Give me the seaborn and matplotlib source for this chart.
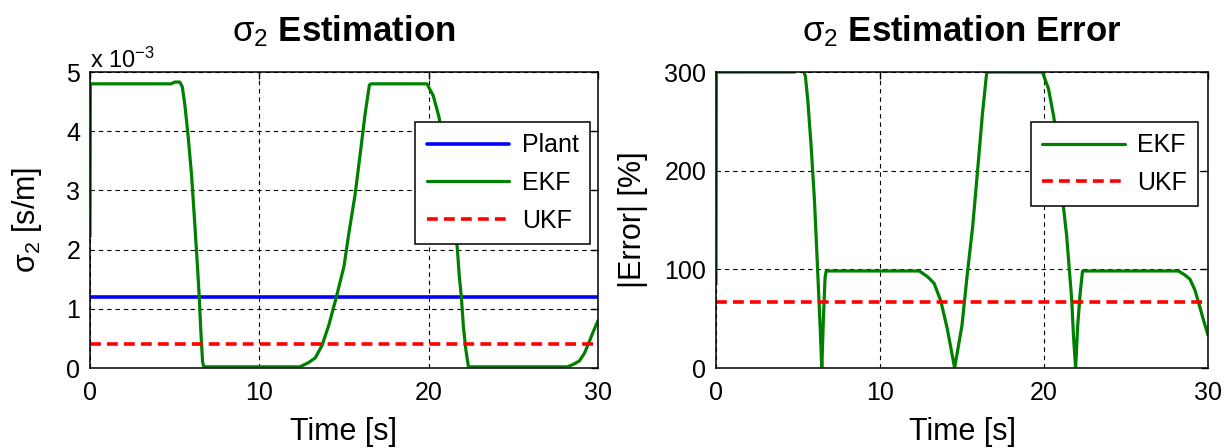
import numpy as np
import matplotlib
matplotlib.use("Agg")
import matplotlib.pyplot as plt
from matplotlib.ticker import ScalarFormatter, MultipleLocator
import seaborn as sns

# ---- data -------------------------------------------------------------
SCALE = 1e-3                      # sigma_2 values below are in units of 1e-3 s/m

# EKF estimate of sigma_2 over the run
ekf_time = [0.0, 0.02, 4.8, 5.0, 5.3, 5.45, 5.6, 5.8, 6.0, 6.15, 6.25, 6.35,
            6.45, 6.55, 6.65, 6.72, 12.4, 12.9, 13.3, 13.7, 14.1, 14.55,
            15.0, 15.3, 15.65, 15.95, 16.25, 16.5, 16.6, 19.9, 20.27, 20.6,
            20.9, 21.18, 21.38, 21.58, 21.69, 21.8, 21.93, 22.05, 22.2,
            22.35, 28.2, 28.6, 28.9, 29.2, 29.45, 29.7, 30.0]
ekf_sigma2 = [2.22, 4.80, 4.80, 4.83, 4.83, 4.75, 4.45, 3.90, 3.25, 2.60,
              2.15, 1.70, 1.20, 0.60, 0.10, 0.02, 0.02, 0.09, 0.17, 0.38,
              0.72, 1.20, 1.72, 2.30, 2.92, 3.60, 4.30, 4.78, 4.80, 4.80,
              4.60, 4.25, 3.80, 3.17, 2.81, 2.31, 2.03, 1.58, 1.20, 0.70,
              0.30, 0.02, 0.02, 0.07, 0.12, 0.25, 0.42, 0.60, 0.80]

plant_sigma2 = 1.2                # true plant value
ukf_sigma2 = 0.4                  # UKF estimate
time_span = [0.0, 30.0]

# ---- derived quantities ----------------------------------------------
ekf = np.asarray(ekf_sigma2)
ekf_err = np.abs(ekf - plant_sigma2) / plant_sigma2 * 100.0
ukf_err = abs(ukf_sigma2 - plant_sigma2) / plant_sigma2 * 100.0


class PowerTenFormatter(ScalarFormatter):
    """Scalar formatter whose offset reads 'x 10^n'."""

    def get_offset(self):
        if self.orderOfMagnitude == 0:
            return ""
        return r"x $10^{%d}$" % self.orderOfMagnitude


# ---- style ------------------------------------------------------------
sns.set_theme(style="white")
plt.rcParams.update({
    "font.family": ["Liberation Sans", "DejaVu Sans"],
    "mathtext.fontset": "custom",
    "mathtext.rm": "Liberation Sans",
    "mathtext.it": "Liberation Sans",
    "mathtext.bf": "Liberation Sans:bold",
    "mathtext.default": "rm",
    "axes.unicode_minus": False,
    "axes.edgecolor": "black",
    "axes.linewidth": 1.1,
    "text.color": "black",
    "axes.labelcolor": "black",
    "xtick.color": "black",
    "ytick.color": "black",
})

BLUE = (0.0, 0.0, 1.0)
GREEN = (0.0, 0.5, 0.0)
RED = (1.0, 0.0, 0.0)
DASH = (0, (3.0, 1.7))
GRID_LS = (0, (4, 3.5))
LABEL_FS = 22
TICK_FS = 18
TITLE_FS = 25

W, H = 1231, 448
fig = plt.figure(figsize=(W / 100, H / 100), dpi=100)
ax1 = fig.add_axes([90 / W, 80 / H, 508 / W, 296 / H])
ax2 = fig.add_axes([716 / W, 80 / H, 492 / W, 296 / H])

# ---- left: sigma_2 estimate -------------------------------------------
sns.lineplot(x=time_span, y=[plant_sigma2 * SCALE] * 2, ax=ax1, color=BLUE,
             linewidth=2.6, label="Plant", estimator=None, sort=False)
sns.lineplot(x=ekf_time, y=ekf * SCALE, ax=ax1, color=GREEN,
             linewidth=2.3, label="EKF", estimator=None, sort=False)
sns.lineplot(x=time_span, y=[ukf_sigma2 * SCALE] * 2, ax=ax1, color=RED,
             linewidth=2.6, linestyle=DASH, label="UKF", estimator=None, sort=False)
ax1.set_ylim(0, 5e-3)
ax1.yaxis.set_major_locator(MultipleLocator(1e-3))
fmt = PowerTenFormatter()
fmt.set_powerlimits((-3, -3))
ax1.yaxis.set_major_formatter(fmt)
ax1.yaxis.get_offset_text().set_fontsize(17)
ax1.set_ylabel(r"$\sigma_2$ [s/m]", fontsize=LABEL_FS, labelpad=16)
ax1.set_title(r"$\sigma_2$ Estimation", fontsize=TITLE_FS, fontweight="bold", pad=22)

# ---- right: estimation error ------------------------------------------
sns.lineplot(x=ekf_time, y=ekf_err, ax=ax2, color=GREEN,
             linewidth=2.3, label="EKF", estimator=None, sort=False)
sns.lineplot(x=time_span, y=[ukf_err] * 2, ax=ax2, color=RED,
             linewidth=2.6, linestyle=DASH, label="UKF", estimator=None, sort=False)
ax2.set_ylim(0, 300)
ax2.yaxis.set_major_locator(MultipleLocator(100))
ax2.set_ylabel("|Error| [%]", fontsize=LABEL_FS, labelpad=12)
ax2.set_title(r"$\sigma_2$ Estimation Error", fontsize=TITLE_FS, fontweight="bold", pad=22)

for ax in (ax1, ax2):
    ax.set_xlim(0, 30)
    ax.xaxis.set_major_locator(MultipleLocator(10))
    ax.set_xlabel("Time [s]", fontsize=LABEL_FS, labelpad=9)
    ax.grid(True, color="black", linestyle=GRID_LS, linewidth=0.8)
    ax.set_axisbelow(True)
    ax.tick_params(direction="in", length=5, width=1, top=True, right=True,
                   labelsize=TICK_FS)
    ax.tick_params(axis="x", pad=9)
    ax.tick_params(axis="y", pad=7)
    for s in ax.spines.values():
        s.set_visible(True)
        s.set_color("black")
        s.set_linewidth(1.1)

leg_kw = dict(fontsize=18, frameon=True, fancybox=False, framealpha=1,
              edgecolor="black", handlelength=3.3, handletextpad=0.5,
              labelspacing=0.55, borderpad=0.45, borderaxespad=0.0,
              loc="upper right")
leg1 = ax1.legend(bbox_to_anchor=(0.984, 0.831), **leg_kw)
leg2 = ax2.legend(bbox_to_anchor=(0.98, 0.831), **leg_kw)
for leg in (leg1, leg2):
    leg.get_frame().set_linewidth(1.1)

fig.savefig("out.png", dpi=100, facecolor="white")
